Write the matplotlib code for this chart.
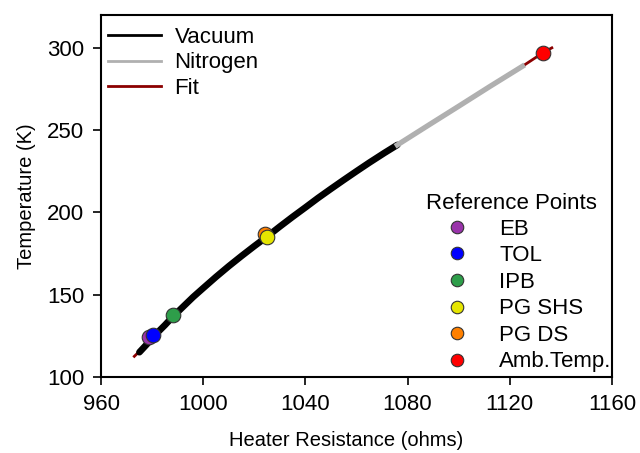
import matplotlib
matplotlib.use("Agg")
import matplotlib.pyplot as plt
from matplotlib.lines import Line2D

plt.rcParams["font.family"] = ["Liberation Sans", "DejaVu Sans"]

# vacuum run (ohms, K)
vac_r = [975, 978, 981, 985, 988, 992, 996, 1000, 1005, 1010, 1015, 1020, 1025,
         1030, 1035, 1040, 1045, 1050, 1055, 1060, 1065, 1071, 1076]
vac_t = [115, 120, 125.3, 131.5, 136.5, 142.5, 148.5, 154, 160.8, 167.3, 173.5, 179.5, 185.3,
         191.4, 197.3, 203, 208.8, 214.3, 219.7, 225, 230.2, 236.2, 241]

# nitrogen run
n2_r = [1076, 1088, 1100, 1112, 1125]
n2_t = [241, 252.8, 264.5, 276.3, 288.8]

# fit curve
fit_r = [973, 978, 985, 992, 1000, 1010, 1020, 1030, 1040, 1050, 1060, 1076, 1100, 1125, 1133, 1136.5]
fit_t = [112.5, 120, 131.5, 142.5, 154, 167.3, 179.5, 191.4, 203, 214.3, 225, 241, 264.5, 288.8, 297, 300]

# reference points
ref_names = ["EB", "TOL", "IPB", "PG SHS", "PG DS", "Amb.Temp."]
ref_r = [978.9, 980.2, 988.3, 1024.8, 1024.3, 1133]
ref_t = [124, 125.3, 137.5, 185, 186.6, 297]
ref_colors = ["#9933aa", "#0000ff", "#2e9e4a", "#e5e500", "#ff8000", "#ff0000"]
ref_order = [0, 4, 1, 2, 3, 5]  # drawing order (PG DS behind PG SHS)

fig = plt.figure(figsize=(6.4, 4.53), dpi=100)
ax = fig.add_axes([0.158, 0.168, 0.798, 0.799])

ax.plot(fit_r, fit_t, color="#8b0000", lw=2, zorder=1)
ax.plot(vac_r, vac_t, color="black", lw=4.8, zorder=2, solid_capstyle="round")
ax.plot(n2_r, n2_t, color="#b0b0b0", lw=3.8, zorder=2)

for i in ref_order:
    ax.plot(ref_r[i], ref_t[i], "o", color=ref_colors[i], markersize=10.5,
            markeredgecolor="#333333", markeredgewidth=0.8, zorder=3)

ax.set_xlim(960, 1160)
ax.set_ylim(100, 320)
ax.set_xticks([960, 1000, 1040, 1080, 1120, 1160])
ax.set_yticks([100, 150, 200, 250, 300])
ax.tick_params(direction="out", length=6, width=1.2, labelsize=16, pad=6)
for s in ax.spines.values():
    s.set_linewidth(1.5)

ax.set_xlabel("Heater Resistance (ohms)", fontsize=14.5)
ax.xaxis.set_label_coords(0.48, -0.15)
ax.set_ylabel("Temperature (K)", fontsize=14.5, labelpad=8)

line_handles = [
    Line2D([], [], color="black", lw=2),
    Line2D([], [], color="#b0b0b0", lw=2),
    Line2D([], [], color="#8b0000", lw=2),
]
leg1 = ax.legend(line_handles, ["Vacuum", "Nitrogen", "Fit"], loc="upper left",
                 frameon=False, fontsize=16, handlelength=2.4, handletextpad=0.6,
                 labelspacing=0.2, borderaxespad=0.1, borderpad=0.2,
                 bbox_to_anchor=(0.0, 0.985))
ax.add_artist(leg1)

pt_handles = [Line2D([], [], marker="o", ls="", color=c, markersize=9,
                     markeredgecolor="#333333", markeredgewidth=0.8) for c in ref_colors]
leg2 = ax.legend(pt_handles, ref_names, loc="lower right", frameon=False, fontsize=16,
                 handletextpad=0.9, labelspacing=0.25, borderaxespad=0.0, borderpad=0.2,
                 bbox_to_anchor=(1.008, 0.0))
ax.text(0.804, 0.48, "Reference Points", transform=ax.transAxes, fontsize=16,
        ha="center", va="center")

fig.savefig("out.png", dpi=100)
plt.close(fig)
